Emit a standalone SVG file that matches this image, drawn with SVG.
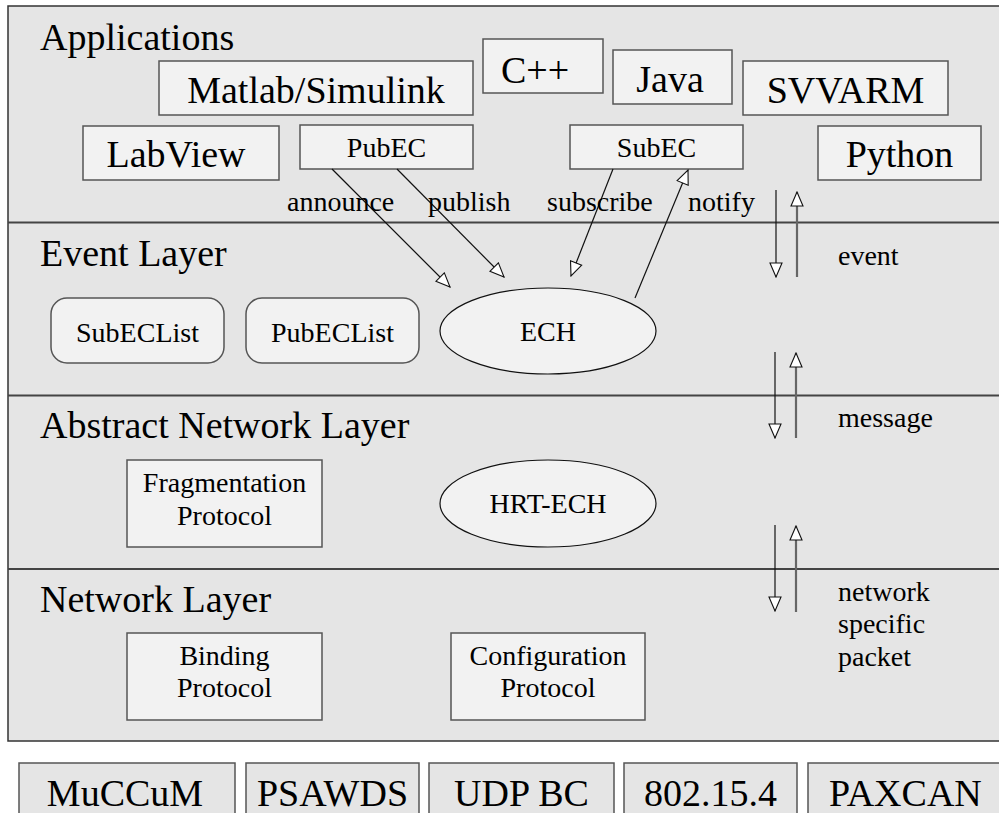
<svg xmlns="http://www.w3.org/2000/svg" width="999" height="813" viewBox="0 0 999 813">
<defs>
<style>
text{font-family:"Liberation Serif","Times New Roman",serif;fill:#000}
.big{font-size:38px}
.sm{font-size:28px}
.mid{text-anchor:middle}
.box{fill:#f2f2f2;stroke:#555;stroke-width:1.5}
.bbox{fill:#e5e5e5;stroke:#555;stroke-width:1.5}
.ell{fill:#f2f2f2;stroke:#111;stroke-width:1.2}
.sep{stroke:#444;stroke-width:2}
.a{stroke:#111;stroke-width:1.2;fill:none;marker-end:url(#ah)}
.u{stroke:#666;stroke-width:2.2;fill:none;marker-end:url(#ah)}
</style>
<marker id="ah" markerUnits="userSpaceOnUse" markerWidth="16" markerHeight="14" viewBox="0 0 16 14" refX="15" refY="7" orient="auto">
<path d="M1,1 L15,7 L1,13 Z" fill="#fff" stroke="#111" stroke-width="1.1"/>
</marker>
</defs>
<rect x="8" y="6" width="1000" height="735" fill="#e5e5e5" stroke="#333" stroke-width="1.5"/>
<line class="sep" x1="8" y1="222.5" x2="999" y2="222.5"/>
<line class="sep" x1="8" y1="395.5" x2="999" y2="395.5"/>
<line class="sep" x1="8" y1="569" x2="999" y2="569"/>
<text class="big" x="40" y="50">Applications</text>
<text class="big" x="40" y="266">Event Layer</text>
<text class="big" x="40" y="438">Abstract Network Layer</text>
<text class="big" x="40" y="612">Network Layer</text>
<g id="matlab"><rect class="box" x="159" y="61" width="314" height="54"/><text class="big mid" x="316" y="103">Matlab/Simulink</text></g>
<g id="cpp"><rect class="box" x="483" y="39" width="120" height="54"/><text class="big mid" x="535" y="83">C++</text></g>
<g id="java"><rect class="box" x="613" y="50" width="119" height="54"/><text class="big mid" x="670" y="92">Java</text></g>
<g id="svvarm"><rect class="box" x="743" y="61" width="205" height="54"/><text class="big mid" x="845.5" y="103">SVVARM</text></g>
<g id="labview"><rect class="box" x="83" y="126" width="196" height="54"/><text class="big mid" x="176" y="167">LabView</text></g>
<g id="pubec"><rect class="box" x="300" y="125" width="173" height="44"/><text class="sm mid" x="386.5" y="157">PubEC</text></g>
<g id="subec"><rect class="box" x="570" y="125" width="173" height="44"/><text class="sm mid" x="656.5" y="157">SubEC</text></g>
<g id="python"><rect class="box" x="818" y="126" width="163" height="54"/><text class="big mid" x="899.5" y="167">Python</text></g>
<g id="subeclist"><rect class="box" x="51" y="298" width="173" height="65" rx="16"/><text class="sm mid" x="137.5" y="342">SubECList</text></g>
<g id="pubeclist"><rect class="box" x="246" y="298" width="173" height="65" rx="16"/><text class="sm mid" x="332.5" y="342">PubECList</text></g>
<g id="ech"><ellipse class="ell" cx="548" cy="331" rx="108" ry="43"/><text class="sm mid" x="548" y="341">ECH</text></g>
<g id="frag"><rect class="box" x="127" y="460" width="195" height="87"/><text class="sm mid" x="224.5" y="492">Fragmentation</text><text class="sm mid" x="224.5" y="525">Protocol</text></g>
<g id="hrtech"><ellipse class="ell" cx="548" cy="503.5" rx="108" ry="43.5"/><text class="sm mid" x="548" y="513">HRT-ECH</text></g>
<g id="binding"><rect class="box" x="127" y="633" width="195" height="87"/><text class="sm mid" x="224.5" y="665">Binding</text><text class="sm mid" x="224.5" y="697">Protocol</text></g>
<g id="config"><rect class="box" x="451" y="633" width="194" height="87"/><text class="sm mid" x="548" y="665">Configuration</text><text class="sm mid" x="548" y="697">Protocol</text></g>
<g id="muccum"><rect class="bbox" x="19" y="763" width="216" height="60"/><text class="big mid" x="125" y="806">MuCCuM</text></g>
<g id="psawds"><rect class="bbox" x="246" y="763" width="173" height="60"/><text class="big mid" x="332.5" y="806">PSAWDS</text></g>
<g id="udpbc"><rect class="bbox" x="429" y="763" width="185" height="60"/><text class="big mid" x="521.5" y="806">UDP BC</text></g>
<g id="ieee"><rect class="bbox" x="624" y="763" width="173" height="60"/><text class="big mid" x="710.5" y="806">802.15.4</text></g>
<g id="paxcan"><rect class="bbox" x="808" y="763" width="200" height="60"/><text class="big" x="829" y="806">PAXCAN</text></g>
<g id="connectors">
<line class="a" x1="332" y1="169" x2="450" y2="287"/>
<line class="a" x1="397" y1="169" x2="504" y2="277"/>
<line class="a" x1="613" y1="169" x2="571" y2="276"/>
<line class="a" x1="635" y1="298" x2="688" y2="170"/>
<line class="a" x1="776" y1="190" x2="776" y2="277"/>
<line class="u" x1="797" y1="277" x2="797" y2="192"/>
<line class="a" x1="775" y1="352" x2="775" y2="438"/>
<line class="u" x1="796" y1="438" x2="796" y2="353"/>
<line class="a" x1="775" y1="525" x2="775" y2="611"/>
<line class="u" x1="796" y1="612" x2="796" y2="526"/>
</g>
<g id="labels">
<text class="sm" x="287" y="211">announce</text>
<text class="sm" x="428" y="211">publish</text>
<text class="sm" x="547" y="211">subscribe</text>
<text class="sm" x="688" y="211">notify</text>
<text class="sm" x="838" y="265">event</text>
<text class="sm" x="838" y="427">message</text>
<text class="sm" x="838" y="601">network</text>
<text class="sm" x="838" y="633">specific</text>
<text class="sm" x="838" y="666">packet</text>
</g>
</svg>
